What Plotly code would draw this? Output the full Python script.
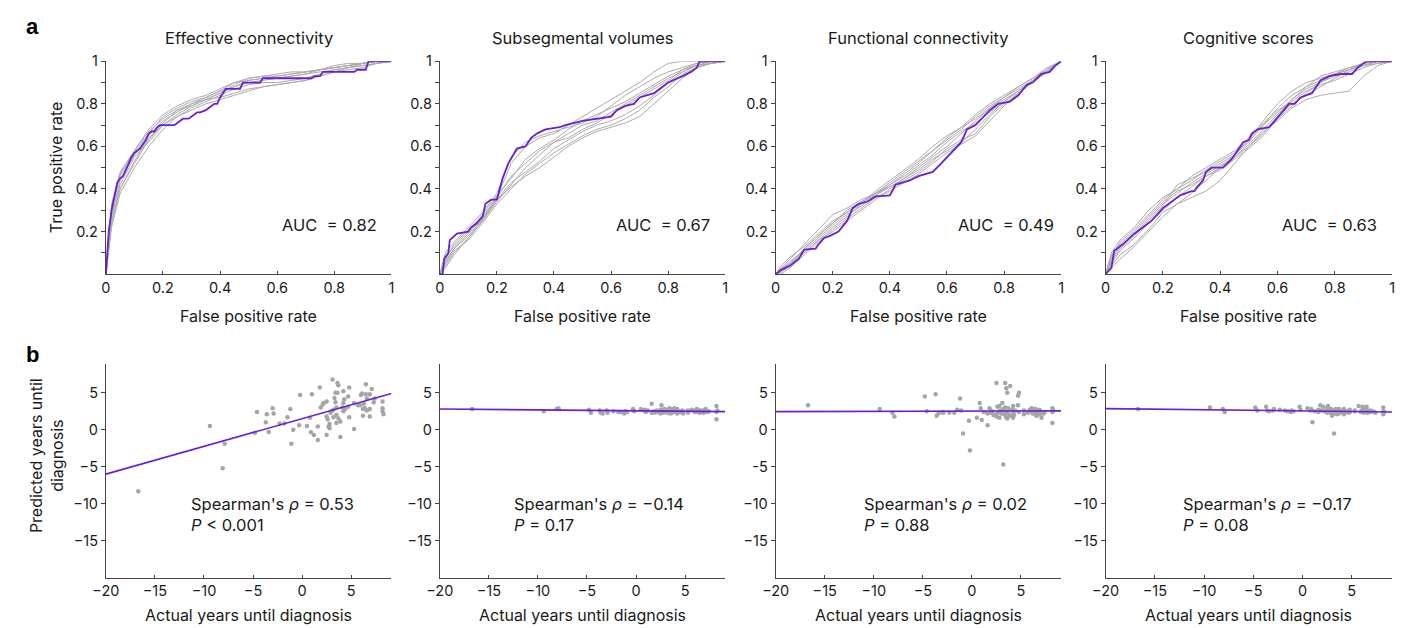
import plotly.graph_objects as go

# ---------------- DATA ----------------
panel_titles = ["Effective connectivity", "Subsegmental volumes",
                "Functional connectivity", "Cognitive scores"]
auc_values = ["0.82", "0.67", "0.49", "0.63"]
rho_values = ["0.53", "\u22120.14", "0.02", "\u22120.17"]
p_values = ["<i>P</i> &lt; 0.001", "<i>P</i> = 0.17", "<i>P</i> = 0.88", "<i>P</i> = 0.08"]

# main (purple) ROC curves
ec_fpr = [0, 0.005, 0.01, 0.02, 0.03, 0.04, 0.05, 0.06, 0.07, 0.08, 0.09, 0.1, 0.11, 0.12, 0.13, 0.14, 0.15, 0.16, 0.17, 0.18,
          0.19, 0.2, 0.24, 0.25, 0.27, 0.29, 0.3, 0.32, 0.33, 0.35, 0.36, 0.37, 0.38, 0.39, 0.4, 0.41, 0.42, 0.47, 0.48, 0.54,
          0.55, 0.72, 0.73, 0.75, 0.76, 0.87, 0.88, 0.91, 0.92, 1.0]
ec_tpr = [0, 0.12, 0.2, 0.3, 0.36, 0.43, 0.45, 0.46, 0.49, 0.52, 0.55, 0.57, 0.58, 0.59, 0.61, 0.63, 0.66, 0.67, 0.67, 0.69,
          0.70, 0.70, 0.70, 0.71, 0.73, 0.73, 0.74, 0.76, 0.76, 0.77, 0.78, 0.79, 0.80, 0.80, 0.83, 0.85, 0.87, 0.87, 0.90, 0.90,
          0.92, 0.92, 0.93, 0.93, 0.95, 0.95, 0.96, 0.96, 1.0, 1.0]
sv_fpr = [0, 0.01, 0.015, 0.03, 0.035, 0.06, 0.1, 0.11, 0.13, 0.15, 0.16, 0.18, 0.2, 0.21, 0.22, 0.24, 0.26, 0.27, 0.3, 0.32,
          0.34, 0.37, 0.42, 0.44, 0.5, 0.55, 0.6, 0.62, 0.65, 0.68, 0.7, 0.75, 0.77, 0.8, 0.85, 0.88, 0.9, 0.91, 1.0]
sv_tpr = [0, 0.0, 0.07, 0.1, 0.16, 0.19, 0.2, 0.22, 0.24, 0.27, 0.33, 0.35, 0.35, 0.40, 0.45, 0.52, 0.57, 0.59, 0.60, 0.64,
          0.66, 0.68, 0.69, 0.70, 0.72, 0.73, 0.74, 0.77, 0.79, 0.80, 0.83, 0.85, 0.87, 0.90, 0.93, 0.95, 0.97, 1.0, 1.0]
fc_fpr = [0, 0.02, 0.05, 0.08, 0.1, 0.14, 0.15, 0.17, 0.19, 0.22, 0.25, 0.27, 0.29, 0.32, 0.35, 0.4, 0.42, 0.47, 0.5, 0.55,
          0.58, 0.62, 0.65, 0.67, 0.7, 0.75, 0.78, 0.82, 0.85, 0.88, 0.9, 0.93, 0.96, 0.98, 1.0]
fc_tpr = [0, 0.02, 0.04, 0.07, 0.115, 0.12, 0.14, 0.17, 0.18, 0.2, 0.25, 0.31, 0.33, 0.34, 0.365, 0.37, 0.42, 0.44, 0.46, 0.48,
          0.52, 0.58, 0.62, 0.68, 0.7, 0.77, 0.8, 0.81, 0.84, 0.89, 0.9, 0.94, 0.95, 0.98, 1.0]
cs_fpr = [0, 0.02, 0.03, 0.06, 0.1, 0.13, 0.16, 0.2, 0.23, 0.26, 0.3, 0.31, 0.32, 0.34, 0.35, 0.37, 0.41, 0.43, 0.44, 0.46,
          0.48, 0.5, 0.51, 0.53, 0.57, 0.59, 0.62, 0.64, 0.66, 0.68, 0.72, 0.75, 0.78, 0.82, 0.86, 0.88, 0.91, 1.0]
cs_tpr = [0, 0.03, 0.11, 0.14, 0.19, 0.22, 0.25, 0.31, 0.34, 0.37, 0.39, 0.39, 0.41, 0.44, 0.48, 0.5, 0.5, 0.53, 0.54, 0.58,
          0.62, 0.63, 0.66, 0.68, 0.69, 0.72, 0.77, 0.8, 0.8, 0.83, 0.85, 0.91, 0.93, 0.94, 0.94, 0.97, 1.0, 1.0]

# fold (grey) ROC curves, sampled on a common FPR grid
fold_fpr = [0, 0.02, 0.05, 0.1, 0.15, 0.2, 0.25, 0.3, 0.35, 0.4, 0.45, 0.5, 0.55, 0.6, 0.65, 0.7, 0.75, 0.8, 0.85, 0.9, 0.95, 1.0]
ec_folds = [
    [0, 0.25, 0.40, 0.52, 0.63, 0.71, 0.77, 0.80, 0.82, 0.85, 0.89, 0.92, 0.93, 0.93, 0.94, 0.95, 0.96, 0.97, 0.98, 0.99, 1.0, 1.0],
    [0, 0.30, 0.46, 0.57, 0.66, 0.74, 0.78, 0.81, 0.83, 0.86, 0.88, 0.90, 0.91, 0.92, 0.93, 0.94, 0.95, 0.96, 0.97, 0.99, 1.0, 1.0],
    [0, 0.22, 0.38, 0.50, 0.60, 0.68, 0.74, 0.78, 0.81, 0.84, 0.87, 0.89, 0.90, 0.90, 0.91, 0.92, 0.94, 0.96, 0.97, 0.98, 0.99, 1.0],
    [0, 0.33, 0.48, 0.58, 0.68, 0.75, 0.79, 0.82, 0.84, 0.87, 0.90, 0.92, 0.93, 0.94, 0.95, 0.95, 0.96, 0.97, 0.98, 0.99, 1.0, 1.0],
    [0, 0.28, 0.42, 0.55, 0.62, 0.70, 0.75, 0.79, 0.82, 0.83, 0.85, 0.87, 0.88, 0.89, 0.90, 0.91, 0.93, 0.95, 0.97, 0.98, 0.99, 1.0],
    [0, 0.27, 0.44, 0.56, 0.65, 0.72, 0.76, 0.80, 0.83, 0.86, 0.90, 0.91, 0.92, 0.92, 0.93, 0.94, 0.96, 0.98, 0.99, 0.99, 1.0, 1.0],
    [0, 0.24, 0.40, 0.53, 0.64, 0.70, 0.74, 0.77, 0.80, 0.82, 0.84, 0.86, 0.88, 0.89, 0.90, 0.91, 0.93, 0.95, 0.96, 0.97, 0.99, 1.0],
    [0, 0.31, 0.47, 0.58, 0.67, 0.73, 0.77, 0.79, 0.82, 0.85, 0.88, 0.91, 0.92, 0.93, 0.94, 0.95, 0.96, 0.97, 0.98, 0.99, 1.0, 1.0],
]
sv_folds = [
    [0, 0.06, 0.12, 0.18, 0.26, 0.36, 0.52, 0.60, 0.64, 0.66, 0.70, 0.74, 0.78, 0.82, 0.86, 0.90, 0.95, 0.99, 1.0, 1.0, 1.0, 1.0],
    [0, 0.04, 0.10, 0.17, 0.25, 0.34, 0.42, 0.50, 0.56, 0.62, 0.66, 0.70, 0.72, 0.76, 0.80, 0.84, 0.88, 0.92, 0.95, 0.98, 0.99, 1.0],
    [0, 0.08, 0.13, 0.20, 0.28, 0.37, 0.45, 0.54, 0.59, 0.63, 0.68, 0.72, 0.75, 0.78, 0.81, 0.85, 0.89, 0.93, 0.96, 0.99, 1.0, 1.0],
    [0, 0.05, 0.11, 0.16, 0.24, 0.33, 0.40, 0.47, 0.52, 0.57, 0.61, 0.65, 0.68, 0.70, 0.73, 0.77, 0.83, 0.88, 0.94, 0.97, 0.99, 1.0],
    [0, 0.10, 0.15, 0.22, 0.29, 0.38, 0.55, 0.62, 0.65, 0.67, 0.69, 0.71, 0.74, 0.79, 0.84, 0.88, 0.92, 0.95, 0.97, 0.99, 1.0, 1.0],
    [0, 0.03, 0.09, 0.17, 0.26, 0.35, 0.43, 0.48, 0.53, 0.59, 0.63, 0.67, 0.70, 0.72, 0.75, 0.79, 0.84, 0.90, 0.95, 0.98, 0.99, 1.0],
    [0, 0.06, 0.12, 0.19, 0.27, 0.36, 0.46, 0.52, 0.58, 0.62, 0.64, 0.68, 0.71, 0.75, 0.79, 0.83, 0.87, 0.91, 0.96, 0.98, 1.0, 1.0],
    [0, 0.07, 0.14, 0.21, 0.25, 0.35, 0.41, 0.46, 0.50, 0.55, 0.60, 0.64, 0.67, 0.69, 0.71, 0.74, 0.80, 0.86, 0.92, 0.97, 0.99, 1.0],
]
fc_folds = [
    [0, 0.03, 0.07, 0.14, 0.21, 0.28, 0.31, 0.35, 0.38, 0.42, 0.47, 0.52, 0.58, 0.64, 0.69, 0.73, 0.78, 0.83, 0.88, 0.92, 0.96, 1.0],
    [0, 0.01, 0.04, 0.10, 0.16, 0.20, 0.25, 0.30, 0.35, 0.40, 0.45, 0.50, 0.55, 0.60, 0.66, 0.72, 0.78, 0.82, 0.86, 0.91, 0.96, 1.0],
    [0, 0.02, 0.05, 0.12, 0.18, 0.24, 0.30, 0.34, 0.37, 0.41, 0.44, 0.48, 0.53, 0.59, 0.63, 0.66, 0.74, 0.80, 0.85, 0.90, 0.95, 1.0],
    [0, 0.04, 0.08, 0.13, 0.19, 0.25, 0.29, 0.33, 0.38, 0.43, 0.48, 0.53, 0.58, 0.63, 0.68, 0.74, 0.79, 0.83, 0.87, 0.91, 0.95, 1.0],
    [0, 0.00, 0.03, 0.09, 0.15, 0.21, 0.26, 0.31, 0.36, 0.39, 0.43, 0.47, 0.52, 0.57, 0.61, 0.65, 0.72, 0.79, 0.85, 0.90, 0.95, 1.0],
    [0, 0.02, 0.06, 0.11, 0.17, 0.23, 0.28, 0.32, 0.37, 0.42, 0.46, 0.51, 0.56, 0.62, 0.67, 0.71, 0.76, 0.81, 0.86, 0.91, 0.96, 1.0],
    [0, 0.03, 0.05, 0.10, 0.16, 0.22, 0.27, 0.33, 0.39, 0.44, 0.49, 0.54, 0.60, 0.65, 0.69, 0.75, 0.80, 0.84, 0.88, 0.92, 0.97, 1.0],
    [0, 0.01, 0.04, 0.12, 0.18, 0.24, 0.29, 0.34, 0.38, 0.41, 0.45, 0.49, 0.54, 0.58, 0.62, 0.68, 0.75, 0.81, 0.86, 0.90, 0.95, 1.0],
]
cs_folds = [
    [0, 0.06, 0.12, 0.18, 0.25, 0.32, 0.42, 0.45, 0.48, 0.52, 0.56, 0.62, 0.70, 0.78, 0.84, 0.88, 0.91, 0.94, 0.96, 0.99, 1.0, 1.0],
    [0, 0.08, 0.15, 0.21, 0.28, 0.35, 0.40, 0.44, 0.49, 0.53, 0.57, 0.63, 0.72, 0.80, 0.86, 0.90, 0.92, 0.94, 0.96, 0.98, 1.0, 1.0],
    [0, 0.04, 0.09, 0.14, 0.21, 0.29, 0.33, 0.36, 0.39, 0.44, 0.52, 0.60, 0.67, 0.72, 0.78, 0.82, 0.84, 0.85, 0.86, 0.93, 0.98, 1.0],
    [0, 0.10, 0.16, 0.22, 0.30, 0.36, 0.40, 0.46, 0.50, 0.54, 0.58, 0.64, 0.70, 0.76, 0.82, 0.87, 0.90, 0.93, 0.95, 0.98, 1.0, 1.0],
    [0, 0.03, 0.07, 0.13, 0.20, 0.27, 0.33, 0.38, 0.44, 0.50, 0.55, 0.60, 0.66, 0.74, 0.80, 0.84, 0.88, 0.92, 0.96, 0.99, 1.0, 1.0],
    [0, 0.07, 0.13, 0.19, 0.26, 0.33, 0.38, 0.43, 0.47, 0.51, 0.55, 0.61, 0.68, 0.75, 0.82, 0.88, 0.93, 0.95, 0.97, 0.99, 1.0, 1.0],
    [0, 0.05, 0.11, 0.17, 0.24, 0.30, 0.36, 0.41, 0.46, 0.49, 0.54, 0.59, 0.65, 0.73, 0.79, 0.85, 0.90, 0.94, 0.97, 0.98, 0.99, 1.0],
    [0, 0.09, 0.14, 0.20, 0.27, 0.34, 0.39, 0.42, 0.46, 0.50, 0.56, 0.63, 0.71, 0.77, 0.81, 0.86, 0.89, 0.91, 0.94, 0.97, 0.99, 1.0],
]

# scatter: actual years until diagnosis (shared) and predictions per model
actual_years = [
    -16.7, -9.4, -8.1, -7.9, -4.8, -4.6, -3.7, -3.6, -3.4, -3.0,
    -2.9, -2.3, -1.8, -1.5, -1.2, -1.1, -0.9, -0.3, -0.2, 0.5,
    0.8, 0.9, 1.0, 1.2, 1.6, 1.6, 1.8, 1.9, 2.1, 2.2,
    2.5, 2.5, 2.5, 2.6, 2.7, 2.8, 2.8, 2.9, 3.0, 3.1,
    3.2, 3.2, 3.3, 3.4, 3.4, 3.5, 3.5, 3.5, 3.6, 3.6,
    3.7, 3.7, 3.9, 3.9, 4.1, 4.2, 4.2, 4.2, 4.3, 4.4,
    4.7, 4.7, 4.8, 4.8, 5.3, 5.3, 5.7, 5.9, 6.0, 6.1,
    6.2, 6.2, 6.3, 6.4, 6.5, 6.5, 6.6, 6.6, 6.9, 6.9,
    6.9, 7.1, 7.3, 7.4, 8.2, 8.2, 8.2, 8.3]
pred_ec = [
    -8.3, 0.5, -5.2, -1.9, -0.4, 2.4, 1.0, 2.1, -0.3, 2.9,
    2.2, 0.85, 0.85, 1.7, 2.8, -1.9, 0.0, 0.6, 4.7, 0.5,
    1.6, -0.35, 4.8, -0.7, 0.45, -1.4, 5.7, 3.0, 3.4, 3.6,
    3.8, 1.8, -0.7, 1.4, 0.45, 0.76, 0.2, 2.3, 2.5, 6.8,
    2.7, 1.7, 4.3, 5.0, 3.7, 3.0, 2.0, 0.9, 6.3, 5.0,
    6.0, 1.5, 1.1, -1.0, 3.0, 5.2, 3.6, 2.5, 4.1, 2.8,
    3.1, 4.5, 5.7, 1.7, 3.6, 0.1, 3.3, 3.3, 4.7, 4.9,
    2.8, 1.9, 3.5, 2.9, 6.15, 4.8, 2.6, 4.2, 2.8, 1.8,
    4.8, 5.5, 3.7, 4.2, 3.8, 2.9, 2.5, 2.1]
pred_sv = [
    2.8, 2.5, 2.8, 2.9, 2.7, 2.3, 2.6, 2.3, 2.2, 2.6,
    2.3, 2.5, 2.4, 2.4, 2.2, 2.5, 2.4, 2.8, 2.5, 2.8,
    2.6, 2.7, 2.4, 2.6, 3.5, 2.3, 2.5, 2.3, 2.6, 2.4,
    2.5, 2.2, 2.7, 3.3, 2.4, 2.6, 2.3, 2.8, 2.5, 2.4,
    2.7, 2.3, 2.6, 2.9, 2.4, 2.5, 2.2, 2.8, 2.6, 2.4,
    2.7, 2.3, 2.9, 2.5, 2.4, 2.6, 2.2, 2.8, 2.5, 2.4,
    2.6, 2.3, 2.5, 2.2, 2.3, 2.6, 2.7, 2.5, 2.4, 2.6,
    2.8, 2.5, 2.4, 2.6, 2.5, 2.3, 2.6, 2.4, 2.5, 2.3,
    2.6, 2.8, 2.4, 2.5, 1.4, 3.2, 2.4, 2.6]
pred_fc = [
    3.3, 2.8, 2.3, 1.8, 4.5, 2.5, 4.8, 1.9, 2.2, 2.4,
    2.3, 2.3, 2.3, 2.7, 4.2, 2.6, -0.5, 1.2, -2.8, 1.6,
    3.6, 2.9, 1.3, 2.4, 0.6, 2.2, 2.9, 2.3, 2.5, 2.0,
    6.3, 2.1, 1.8, 3.1, 2.4, 3.2, 1.6, 2.6, 2.2, 3.6,
    -4.7, 2.8, 2.1, 6.3, 3.0, 5.6, 1.7, 2.4, 5.0, 1.5,
    2.9, 2.2, 5.9, 1.9, 2.7, 3.2, 1.6, 2.4, 2.0, 2.6,
    4.6, 3.3, 5.0, 2.4, 2.1, 2.6, 2.3, 2.7, 2.5, 2.9,
    2.2, 2.8, 2.4, 2.6, 2.0, 2.8, 2.3, 1.9, 2.5, 2.1,
    2.7, 1.6, 2.2, 2.4, 2.9, 2.4, 0.9, 2.6]
pred_cs = [
    2.8, 3.0, 2.8, 2.4, 3.0, 2.6, 3.1, 2.6, 2.5, 2.6,
    2.8, 2.7, 2.6, 2.5, 2.4, 2.6, 2.5, 3.1, 2.7, 2.9,
    2.6, 2.8, 1.0, 2.5, 2.7, 2.4, 3.3, 2.6, 3.1, 2.5,
    2.9, 2.3, 2.7, 3.2, 2.5, 2.6, 2.3, 2.8, 1.9, 2.4,
    -0.5, 2.6, 2.2, 2.8, 2.4, 2.5, 2.1, 2.7, 2.3, 2.6,
    2.2, 2.8, 2.4, 2.5, 2.6, 2.1, 2.4, 2.8, 2.3, 2.5,
    2.6, 2.3, 2.4, 2.7, 2.5, 2.6, 3.2, 2.4, 2.6, 3.1,
    2.7, 2.3, 2.5, 2.8, 3.1, 2.4, 2.6, 2.3, 2.5, 2.4,
    2.6, 2.5, 2.4, 2.3, 3.0, 2.5, 2.1, 2.4]

# regression lines (endpoints)
fit_x = [-20, 9.1]
fit_ec = [-6.0, 4.9]
fit_sv = [2.8, 2.45]
fit_fc = [2.45, 2.55]
fit_cs = [2.85, 2.4]

roc_main = [(ec_fpr, ec_tpr), (sv_fpr, sv_tpr), (fc_fpr, fc_tpr), (cs_fpr, cs_tpr)]
roc_folds = [ec_folds, sv_folds, fc_folds, cs_folds]
preds = [pred_ec, pred_sv, pred_fc, pred_cs]
fits = [fit_ec, fit_sv, fit_fc, fit_cs]

# ---------------- STYLE / LAYOUT ----------------
W, H = 1406, 628
PURPLE = "#6A1ED6"
GREY = "#ABABAB"
PT = "#A5A5A5"
AX = "#444444"
FONT = "Inter"
TXT = "#1a1a1a"
TICK_SIZE = 14.5
LABEL_SIZE = 16
TITLE_SIZE = 16.5
NOTE_SIZE = 16.5

# positions in window pixels
col_px = [(93, 382), (431, 720), (771, 1060), (1105, 1395)]
top_px = (53, 269)
bot_px = (360, 577)

def px_x(p):
    return p / W

def px_y(p):
    return 1 - p / H

def dom_x(a, b):
    return [px_x(a), px_x(b)]

def dom_y(t, b):
    return [px_y(b), px_y(t)]

fig = go.Figure()
layout = dict(width=W, height=H, margin=dict(l=0, r=0, t=0, b=0),
              paper_bgcolor="white", plot_bgcolor="white", showlegend=False,
              font=dict(family=FONT, size=14, color=TXT))
annotations = []

neg_minus = "\u2212"
for i in range(4):
    # ---------- top ROC ----------
    k = i + 1
    xa, ya = f"x{k}", f"y{k}"
    for fold in roc_folds[i]:
        fig.add_trace(go.Scatter(x=fold_fpr, y=fold, mode="lines", xaxis=xa, yaxis=ya,
                                 line=dict(color=GREY, width=1), hoverinfo="skip"))
    fx, fy = roc_main[i]
    fig.add_trace(go.Scatter(x=fx, y=fy, mode="lines", xaxis=xa, yaxis=ya,
                             line=dict(color=PURPLE, width=1.8)))
    layout[f"xaxis{k}"] = dict(domain=dom_x(*col_px[i]), anchor=ya, range=[0, 1.0],
                               showgrid=False, zeroline=False, showline=True, linecolor=AX, linewidth=1,
                               ticks="inside", ticklen=3, tickcolor=AX,
                               tickvals=[0, 0.2, 0.4, 0.6, 0.8, 1], ticktext=["0", "0.2", "0.4", "0.6", "0.8", "1"],
                               tickfont=dict(size=TICK_SIZE, color=TXT), fixedrange=True)
    layout[f"yaxis{k}"] = dict(domain=dom_y(*top_px), anchor=xa, range=[0, 1.0],
                               showgrid=False, zeroline=False, showline=True, linecolor=AX, linewidth=1,
                               ticks="outside", ticklen=4, tickcolor=AX,
                               tickvals=[0.2, 0.4, 0.6, 0.8, 1], ticktext=["0.2", "0.4", "0.6", "0.8", "1"],
                               minor=dict(ticks="outside", ticklen=4, tickcolor=AX, tick0=0.1, dtick=0.2),
                               tickfont=dict(size=TICK_SIZE, color=TXT), fixedrange=True)
    cxp = (col_px[i][0] + col_px[i][1]) / 2
    annotations.append(dict(text=panel_titles[i], x=px_x(cxp), y=px_y(29), xref="paper", yref="paper",
                            showarrow=False, font=dict(size=TITLE_SIZE, color=TXT), xanchor="center", yanchor="middle"))
    annotations.append(dict(text="False positive rate", x=px_x(cxp), y=px_y(311), xref="paper", yref="paper",
                            showarrow=False, font=dict(size=LABEL_SIZE, color=TXT), xanchor="center", yanchor="middle"))
    auc_x = [0.61, 0.61, 0.63, 0.61][i]
    annotations.append(dict(text="AUC\u00a0 = " + auc_values[i], x=auc_x, y=0.23, xref=xa, yref=ya,
                            showarrow=False, font=dict(size=NOTE_SIZE, color=TXT), xanchor="left", yanchor="middle"))

    # ---------- bottom scatter ----------
    k2 = i + 5
    xb, yb = f"x{k2}", f"y{k2}"
    fig.add_trace(go.Scatter(x=actual_years, y=preds[i], mode="markers", xaxis=xb, yaxis=yb,
                             marker=dict(color=PT, size=4.5, line=dict(width=0))))
    fig.add_trace(go.Scatter(x=fit_x, y=fits[i], mode="lines", xaxis=xb, yaxis=yb,
                             line=dict(color=PURPLE, width=1.6)))
    m5 = "-5" if i == 2 else neg_minus + "5"
    layout[f"xaxis{k2}"] = dict(domain=dom_x(*col_px[i]), anchor=yb, range=[-20, 9.1],
                                showgrid=False, zeroline=False, showline=True, linecolor=AX, linewidth=1,
                                ticks="inside", ticklen=3, tickcolor=AX,
                                tickvals=[-20, -15, -10, -5, 0, 5],
                                ticktext=[neg_minus + "20", neg_minus + "15", neg_minus + "10", neg_minus + "5", "0", "5"],
                                tickfont=dict(size=TICK_SIZE, color=TXT), fixedrange=True)
    layout[f"yaxis{k2}"] = dict(domain=dom_y(*bot_px), anchor=xb, range=[-20, 8.9],
                                showgrid=False, zeroline=False, showline=True, linecolor=AX, linewidth=1,
                                ticks="outside", ticklen=4, tickcolor=AX,
                                tickvals=[-15, -10, -5, 0, 5],
                                ticktext=[neg_minus + "15", neg_minus + "10", m5, "0", "5"],
                                tickfont=dict(size=TICK_SIZE, color=TXT), fixedrange=True)
    annotations.append(dict(text="Actual years until diagnosis", x=px_x(cxp), y=px_y(615), xref="paper", yref="paper",
                            showarrow=False, font=dict(size=LABEL_SIZE, color=TXT), xanchor="center", yanchor="middle"))
    sp_x = [-11.5, -12.6, -11.2, -12.3][i]
    annotations.append(dict(text="Spearman's <i>\u03c1</i> = " + rho_values[i] + "<br>" + p_values[i],
                            x=sp_x, y=-11.5, xref=xb, yref=yb, showarrow=False, align="left",
                            font=dict(size=NOTE_SIZE, color=TXT), xanchor="left", yanchor="middle"))

# y titles and panel letters
annotations.append(dict(text="True positive rate", x=px_x(42), y=px_y(161), xref="paper", yref="paper",
                        showarrow=False, textangle=-90, font=dict(size=LABEL_SIZE, color=TXT),
                        xanchor="center", yanchor="middle"))
annotations.append(dict(text="Predicted years until<br>diagnosis", x=px_x(33), y=px_y(453), xref="paper", yref="paper",
                        showarrow=False, textangle=-90, font=dict(size=LABEL_SIZE, color=TXT),
                        xanchor="center", yanchor="middle"))
annotations.append(dict(text="<b>a</b>", x=px_x(10), y=px_y(18), xref="paper", yref="paper", showarrow=False,
                        font=dict(size=22, color="black", family="Liberation Sans"), xanchor="left", yanchor="middle"))
annotations.append(dict(text="<b>b</b>", x=px_x(10), y=px_y(351), xref="paper", yref="paper", showarrow=False,
                        font=dict(size=22, color="black", family="Liberation Sans"), xanchor="left", yanchor="middle"))

layout["annotations"] = annotations
fig.update_layout(**layout)
fig.write_html("out.html")
